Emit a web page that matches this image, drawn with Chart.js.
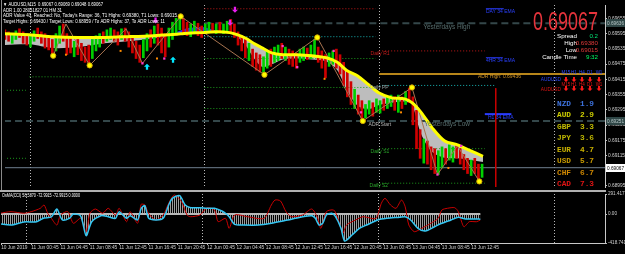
<!DOCTYPE html>
<html>
<head>
<meta charset="utf-8">
<script src="https://cdn.jsdelivr.net/npm/chart.js@4.4.1/dist/chart.umd.min.js"></script>
<style>
  html, body { margin: 0; padding: 0; background: #000; }
  #wrap { position: relative; width: 625px; height: 254px; overflow: hidden; background: #000; }
  #main { position: absolute; left: 0; top: 0; }
  #osc { position: absolute; left: 0; top: 186px; }
</style>
</head>
<body>
<div id="wrap">
  <canvas id="main" width="625" height="192"></canvas>
  <canvas id="osc" width="625" height="68"></canvas>
</div>
<script>
// ---- x axis: M15 bars counted from 11 Jun 00:00 ---- //
const xMin = -13.47;
const xMax = 316.0;
const daySepBars = [0, 96, 192, 288];
const xTickBars = [-13.4, 3, 19, 35, 51, 67, 83, 99, 115, 131, 147, 163, 179, 195, 211, 227, 243];
const xTickText = ['10 Jun 2019', '11 Jun 00:45', '11 Jun 04:45', '11 Jun 08:45', '11 Jun 12:45', '11 Jun 16:45',
  '11 Jun 20:45', '12 Jun 00:45', '12 Jun 04:45', '12 Jun 08:45', '12 Jun 12:45', '12 Jun 16:45',
  '12 Jun 20:45', '13 Jun 00:45', '13 Jun 04:45', '13 Jun 08:45', '13 Jun 12:45'];

// ---- price axis ---- //
const priceMin = 0.68991;
const priceMax = 0.697078;
const priceTicks = [0.68995, 0.69055, 0.69115, 0.69175, 0.69235, 0.69295, 0.69355, 0.69415, 0.69475, 0.69535, 0.69595, 0.69655];

// ---- candles, pairs of M15 bars ---- //
const candleFirstBar = -13.5;
const candleHigh = [
  0.69610, 0.69602, 0.69595, 0.69606, 0.69614, 0.69602, 0.69595, 0.69587, 0.69606, 0.69617, 0.69602, 0.69595,
  0.69583, 0.69572, 0.69595, 0.69625, 0.69633, 0.69595, 0.69580, 0.69565, 0.69572, 0.69557, 0.69542, 0.69550,
  0.69572, 0.69587, 0.69595, 0.69602, 0.69610, 0.69617, 0.69610, 0.69602, 0.69614, 0.69617, 0.69602, 0.69587,
  0.69565, 0.69550, 0.69572, 0.69595, 0.69610, 0.69625, 0.69633, 0.69617, 0.69595, 0.69617, 0.69640, 0.69655,
  0.69663, 0.69655, 0.69640, 0.69633, 0.69644, 0.69636, 0.69625, 0.69633, 0.69640, 0.69636, 0.69633, 0.69640,
  0.69633, 0.69644, 0.69651, 0.69633, 0.69602, 0.69587, 0.69572, 0.69557, 0.69534, 0.69519, 0.69512, 0.69504,
  0.69527, 0.69534, 0.69542, 0.69550, 0.69557, 0.69542, 0.69534, 0.69527, 0.69519, 0.69534, 0.69542, 0.69538,
  0.69550, 0.69572, 0.69542, 0.69527, 0.69512, 0.69519, 0.69527, 0.69534, 0.69512, 0.69482, 0.69451, 0.69406,
  0.69376, 0.69353, 0.69331, 0.69316, 0.69331, 0.69323, 0.69338, 0.69331, 0.69338, 0.69346, 0.69353, 0.69346,
  0.69353, 0.69346, 0.69368, 0.69380, 0.69346, 0.69293, 0.69217, 0.69180, 0.69172, 0.69149, 0.69142, 0.69134,
  0.69149, 0.69142, 0.69157, 0.69149, 0.69157, 0.69142, 0.69119, 0.69104, 0.69097, 0.69104, 0.69081, 0.69081
];
const candleLow = [
  0.69572, 0.69565, 0.69557, 0.69572, 0.69580, 0.69557, 0.69550, 0.69542, 0.69565, 0.69576, 0.69557, 0.69538,
  0.69531, 0.69504, 0.69527, 0.69557, 0.69565, 0.69512, 0.69519, 0.69504, 0.69512, 0.69489, 0.69482, 0.69474,
  0.69497, 0.69527, 0.69542, 0.69557, 0.69565, 0.69572, 0.69565, 0.69550, 0.69572, 0.69565, 0.69542, 0.69519,
  0.69497, 0.69482, 0.69500, 0.69527, 0.69542, 0.69557, 0.69550, 0.69519, 0.69504, 0.69542, 0.69572, 0.69595,
  0.69610, 0.69595, 0.69587, 0.69583, 0.69595, 0.69587, 0.69580, 0.69595, 0.69602, 0.69599, 0.69595, 0.69602,
  0.69595, 0.69606, 0.69602, 0.69580, 0.69550, 0.69527, 0.69500, 0.69489, 0.69466, 0.69451, 0.69444, 0.69433,
  0.69459, 0.69466, 0.69482, 0.69489, 0.69497, 0.69489, 0.69474, 0.69466, 0.69459, 0.69482, 0.69489, 0.69493,
  0.69497, 0.69504, 0.69482, 0.69459, 0.69421, 0.69466, 0.69474, 0.69459, 0.69436, 0.69391, 0.69346, 0.69316,
  0.69300, 0.69278, 0.69251, 0.69263, 0.69278, 0.69270, 0.69285, 0.69282, 0.69293, 0.69300, 0.69308, 0.69293,
  0.69285, 0.69300, 0.69316, 0.69323, 0.69236, 0.69142, 0.69104, 0.69085, 0.69081, 0.69059, 0.69044, 0.69040,
  0.69066, 0.69081, 0.69097, 0.69089, 0.69104, 0.69081, 0.69059, 0.69044, 0.69036, 0.69044, 0.69013, 0.69029
];
const candleUp = [
  0,0,1,1,0,0,0, 1,1,0,0,0,0,0, 1,1,0,0,0,1,0, 0,0,0,1,1,1,0, 1,1,0,0,1,0,0, 0,0,0,1,1,0,1,
  0,0,0,1,1,1,1, 0,0,1,1,0,0,1, 1,0,1,0,1,1,0, 0,0,0,0,1,0,0, 0,1,1,0,1,1,0, 1,0,0,0,1,1,0,
  1,1,0,0,0,1,1, 0,0,0,0,0,1,0, 0,1,1,0,1,1,0, 1,1,0,1,0,1,0, 0,0,0,1,0,0,0, 1,1,0,1,1,0,0,
  0,0,1,0,0,1
];

// ---- moving averages (cloud) ---- //
const maBars = [-14, 0, 13, 27, 41, 54, 68, 76, 81, 84, 87, 95, 103, 110, 114, 119, 123, 128, 133, 139,
  147, 155, 163, 169, 174, 180, 186, 192, 199, 206, 210, 215, 221, 228, 235, 242, 249];
const slowMA = [0.69595, 0.69591, 0.69583, 0.69580, 0.69580, 0.69583, 0.69587, 0.69591, 0.69593, 0.69595,
  0.69597, 0.69599, 0.69602, 0.69599, 0.69591, 0.69576, 0.69557, 0.69538, 0.69519, 0.69512,
  0.69512, 0.69508, 0.69500, 0.69482, 0.69451, 0.69429, 0.69395, 0.69361, 0.69342, 0.69338,
  0.69323, 0.69285, 0.69225, 0.69172, 0.69157, 0.69134, 0.69112];
const fastMA = [0.69550, 0.69553, 0.69538, 0.69542, 0.69557, 0.69565, 0.69576, 0.69587, 0.69602, 0.69610,
  0.69617, 0.69621, 0.69606, 0.69597, 0.69583, 0.69545, 0.69500, 0.69463, 0.69474, 0.69493,
  0.69497, 0.69493, 0.69485, 0.69451, 0.69376, 0.69312, 0.69297, 0.69314, 0.69323, 0.69327,
  0.69316, 0.69200, 0.69130, 0.69106, 0.69104, 0.69097, 0.69089];

// ---- zigzag, swing dots, fractals, arrows ---- //
const zigzagBars = [13, 20, 33, 53, 62, 83, 129, 158, 183, 210, 224, 235, 247];
const zigzagPrices = [0.69508, 0.69633, 0.69470, 0.69614, 0.69478, 0.69663, 0.69433, 0.69580, 0.69251, 0.69383, 0.69040, 0.69153, 0.69013];
const swingBars = [13, 33, 83, 129, 158, 183, 210, 247];
const swingPrices = [0.69508, 0.69470, 0.69663, 0.69433, 0.69580, 0.69251, 0.69383, 0.69013];
const pinkBars = [62, 74, 139, 147, 167, 182, 224, 237];
const pinkPrices = [0.69478, 0.69497, 0.69546, 0.69463, 0.69527, 0.69285, 0.69040, 0.69153];
const orangeBars = [20, 50, 70, 162, 204, 230];
const orangePrices = [0.69512, 0.69527, 0.69497, 0.69417, 0.69285, 0.69066];
const upArrowBars = [64.5, 78.8];
const upArrowPrices = [0.69476, 0.69504];
const downArrowBars = [69.2, 110.1, 112.8];
const downArrowPrices = [0.69635, 0.69626, 0.69677];

// ---- horizontal levels ---- //
const levelPrices = [0.69372, 0.69104, 0.69425, 0.69693, 0.69583, 0.69497, 0.69383, 0.69300,
  0.69527, 0.69391, 0.69142, 0.69006, 0.69636, 0.69251, 0.69436, 0.69067, 0.69693, 0.69500, 0.69278];
const levelFrom = [-14, -14, 0, 96, 96, 96, 96, 96, 192, 192, 192, 192, 96, -14, 192, -14, 250.6, 250.6, 250];
const levelTo = [-2, -2, 94, 190, 190, 190, 190, 190, 250, 256, 250, 250, 330, 330, 330, 330, 260.4, 259.9, 264.6];
const levelKind = ['green', 'green', 'green', 'red', 'cyan', 'green', 'green', 'green',
  'red', 'cyan', 'green', 'green', 'yest', 'yest', 'adr', 'price', 'ema', 'ema', 'ema2'];
const rangeBar = 256;
const rangeTop = 0.69380;

// ---- texts on the chart ---- //
const noteText = ['Daily R1', 'Daily PP', 'Daily S1', 'Daily S2', 'ADR Start', 'Yesterdays High', 'Yesterdays Low',
  'ADR High: 0.69436', 'DAY 34 EMA', '4HR 34 EMA', 'H1 34 EMA'];
const noteBar = [187.3, 186.7, 187.3, 186.7, 186.2, 216.2, 216.8, 246.2, 250.6, 250.6, 251.7];
const notePrice = [0.69516, 0.69382, 0.69131, 0.68998, 0.69238, 0.69621, 0.69240, 0.69427, 0.69680, 0.69487, 0.69263];
const axisBoxPrices = [0.69636, 0.69251, 0.69067];

const infoLines = [
  '\u25BC AUDUSD,M15  0.69067 0.69069 0.69048 0.69067',
  'ADR 1.00 28051827 01 HM 31',
  'ADR Value 43, Reached: No, Today\'s Range: 36, T1 Highs: 0.69380, T1 Lows: 0.69015',
  'Target Highs: 0.69430 / Target Lows: 0.68959 / To ADR Highs: 37, To ADR Lows: 11'
];
const lastPrice = '0.69067';
const statNames = ['Spread', 'High', 'Low', 'Candle Time'];
const statValues = ['0.2', '0.69380', '0.69015', '9:32'];
const timeframes = ['M15', 'H1', 'H4', 'D1', 'W1'];
const currencyNames = ['NZD', 'AUD', 'GBP', 'JPY', 'EUR', 'USD', 'CHF', 'CAD'];
const currencyStrength = [1.9, 2.9, 3.3, 3.6, 4.7, 5.7, 6.7, 7.3];

// ---- OsMA(CCI) window ---- //
const oscMin = -418.7411;
const oscMax = 291.4177;
const oscTicks = [-418.7411, 0, 291.4177];
const oscTickText = ['-418.7411', '0.00', '291.4177'];
const oscTitle = 'OsMA(CCI) 58.5870 -72.9915 -72.9915 0.0000';
const oscBars = [-14, -8, -1, 6, 10, 14, 17, 20, 24, 26, 30, 33, 36, 41, 45, 49, 51, 55, 57, 61,
  63, 65, 67, 71, 75, 78, 80, 84, 87, 90, 95, 99, 103, 107, 109, 111, 114, 119, 127, 134,
  138, 143, 147, 151, 156, 158, 160, 162, 164, 167, 169, 172, 174, 178, 182, 186, 192, 197, 204, 207,
  210, 214, 218, 223, 227, 232, 236, 240, 245, 248];
const oscMain = [-143, -158, -114, -110, -57, -42, 74, -85, -57, 1, -28, -313, -110, -23, -38, -61, 35, -61, -23, -85,
  84, 122, -57, -85, -61, 132, 229, 267, 132, 93, 93, 84, 84, 45, 12, -38, -148, -158, -158, -133,
  -110, -85, -61, -38, -23, -61, -158, -133, -13, 12, -38, -206, -390, -303, -206, -158, -85, -61, -46, -38,
  -85, -206, -245, -183, -133, -85, -46, -71, -71, -73];
const sigBars = [-14, -8, -1, 3, 8, 10, 12, 14, 17, 19, 23, 26, 30, 33, 35, 38, 42, 45, 49, 51,
  55, 57, 61, 63, 65, 67, 71, 75, 78, 81, 85, 88, 90, 95, 99, 103, 105, 109, 111, 114,
  121, 130, 134, 136, 139, 142, 145, 151, 156, 159, 161, 164, 168, 170, 173, 175, 180, 184, 191, 194,
  196, 199, 202, 205, 207, 209, 212, 216, 221, 225, 227, 230, 234, 236, 239, 242, 246, 248];
const oscSignal = [12, 35, 12, 35, 84, 132, 12, -61, -158, -13, 35, -133, -61, -255, 12, 74, 12, 84, -13, 84,
  -110, 35, -133, 142, 132, 12, -85, -13, 157, 277, 180, -13, -38, -13, 93, 59, -110, -61, -206, -13,
  -38, -61, 132, 204, 190, 35, -38, -13, 74, -38, -206, 35, 59, -38, -278, -158, -85, -38, -61, 157,
  229, 132, 84, 204, 107, -158, -255, -206, -133, -61, 59, 84, 93, 35, -183, -110, -110, -85];

// ---- styles ---- //
const SANS = '"Liberation Sans", Arial, sans-serif';
const MONO = '"Liberation Mono", "DejaVu Sans Mono", monospace';
const levelStyle = {
  green: { color: '#1c9a1c', width: 1, dash: [1, 2] },
  red: { color: '#c41818', width: 1, dash: [1, 2] },
  cyan: { color: '#18b4b4', width: 1, dash: [1, 2] },
  yest: { color: '#34474a', width: 2, dash: [7, 4] },
  adr: { color: '#b8861a', width: 2, dash: [] },
  price: { color: '#6f7f8f', width: 1, dash: [] },
  ema: { color: '#2a3cff', width: 1, dash: [] },
  ema2: { color: '#2a3cff', width: 2, dash: [] }
};
const noteColor = ['#c81c1c', '#9aa6a6', '#2aa82a', '#2aa82a', '#b4b4b4', '#566c6c', '#566c6c', '#d0962a', '#2a40ff', '#2a40ff', '#2a40ff'];
const noteSize = [5, 5, 5, 5, 5, 6.5, 6.5, 5, 5, 5, 5];
const boxStyle = [['#2f4646', '#b8c8c8'], ['#2f4646', '#b8c8c8'], ['#ffffff', '#000000']];
const statColors = ['#00e676', '#e03a3a', '#e03a3a', '#00ff66'];
const currencyColors = ['#3d72dd', '#cccc00', '#c2bb00', '#bdb600', '#c8b000', '#c89a00', '#d08800', '#e01414'];

function txt(ctx, s, x, y, color, font, align, maxW) {
  ctx.fillStyle = color;
  ctx.font = font;
  ctx.textAlign = align || 'left';
  ctx.textBaseline = 'middle';
  if (maxW) ctx.fillText(s, x, y, maxW); else ctx.fillText(s, x, y);
}

function drawArrow(ctx, px, py, dir, color, w, h) {
  // py is the tip, dir 1 = body below tip (up arrow), -1 = body above tip (down arrow)
  const hh = h * 0.5, sw = w * 0.38;
  ctx.fillStyle = color;
  ctx.beginPath();
  ctx.moveTo(px, py);
  ctx.lineTo(px + w / 2, py + dir * hh);
  ctx.lineTo(px + sw / 2, py + dir * hh);
  ctx.lineTo(px + sw / 2, py + dir * h);
  ctx.lineTo(px - sw / 2, py + dir * h);
  ctx.lineTo(px - sw / 2, py + dir * hh);
  ctx.lineTo(px - w / 2, py + dir * hh);
  ctx.closePath();
  ctx.fill();
}

function daySeparators(chart) {
  const { ctx, chartArea: a, scales: { x } } = chart;
  ctx.save();
  ctx.strokeStyle = '#b8b8b8';
  ctx.lineWidth = 1;
  ctx.setLineDash([1, 2]);
  daySepBars.forEach(b => {
    const px = Math.round(x.getPixelForValue(b)) + 0.5;
    ctx.beginPath();
    ctx.moveTo(px, a.top);
    ctx.lineTo(px, a.bottom);
    ctx.stroke();
  });
  ctx.restore();
}

// ---- main window ---- //
const mainSets = [];
levelPrices.forEach((p, i) => {
  const st = levelStyle[levelKind[i]];
  mainSets.push({
    data: [{ x: levelFrom[i], y: p }, { x: levelTo[i], y: p }],
    borderColor: st.color, borderWidth: st.width, borderDash: st.dash,
    pointRadius: 0, fill: false, order: 20
  });
});
mainSets.push({
  data: [{ x: rangeBar, y: rangeTop }, { x: rangeBar, y: priceMin }],
  borderColor: '#c80000', borderWidth: 1, pointRadius: 0, fill: false, order: 19
});
mainSets.push({
  data: maBars.map((b, i) => ({ x: b, y: fastMA[i] })),
  borderColor: 'rgba(0,0,0,0)', borderWidth: 1, pointRadius: 0, tension: 0.3,
  fill: { target: '+1', above: '#2a32f0', below: '#bdbdbd' }, order: 15
});
mainSets.push({
  data: maBars.map((b, i) => ({ x: b, y: slowMA[i] })),
  borderColor: '#ffff00', borderWidth: 3, pointRadius: 0, tension: 0.3, fill: false, order: 4
});
mainSets.push({
  type: 'bar',
  data: candleHigh.map((h, i) => ({ x: candleFirstBar + 2 * i, y: [candleLow[i], h] })),
  backgroundColor: candleUp.map(u => u ? '#00d000' : '#d00000'),
  borderWidth: 0, barThickness: 2, order: 8
});
mainSets.push({
  data: zigzagBars.map((b, i) => ({ x: b, y: zigzagPrices[i] })),
  borderColor: '#a87450', borderWidth: 1, pointRadius: 0, tension: 0, fill: false, order: 6
});
mainSets.push({
  data: swingBars.map((b, i) => ({ x: b, y: swingPrices[i] })),
  showLine: false, pointRadius: 2.6, pointBackgroundColor: '#ffff00', pointBorderColor: '#d8a800',
  pointBorderWidth: 1, order: 3
});
mainSets.push({
  data: pinkBars.map((b, i) => ({ x: b, y: pinkPrices[i] })),
  showLine: false, pointStyle: 'rect', pointRadius: 1.6, pointBackgroundColor: '#ff3cc8',
  pointBorderWidth: 0, order: 2
});
mainSets.push({
  data: orangeBars.map((b, i) => ({ x: b, y: orangePrices[i] })),
  showLine: false, pointStyle: 'rect', pointRadius: 1.4, pointBackgroundColor: '#ff8c00',
  pointBorderWidth: 0, order: 2
});

const mainDecor = {
  id: 'mainDecor',
  beforeDraw: daySeparators,
  afterDatasetsDraw(chart) {
    const { ctx, scales: { x, y } } = chart;
    upArrowBars.forEach((b, i) => drawArrow(ctx, x.getPixelForValue(b), y.getPixelForValue(upArrowPrices[i]), 1, '#00e8ff', 6, 6));
    downArrowBars.forEach((b, i) => drawArrow(ctx, x.getPixelForValue(b), y.getPixelForValue(downArrowPrices[i]), -1, '#e81ef0', 6, 6));
  },
  afterDraw(chart) {
    const { ctx, scales: { x, y }, chartArea: a } = chart;
    ctx.save();
    // frame
    ctx.fillStyle = '#b0b0b0';
    ctx.fillRect(0, 190, a.right + 1, 2);
    ctx.fillStyle = '#8a8a8a';
    ctx.fillRect(1, 0, 1, 190);
    // price boxes on the axis
    axisBoxPrices.forEach((p, i) => {
      const py = Math.round(y.getPixelForValue(p));
      ctx.fillStyle = boxStyle[i][0];
      ctx.fillRect(a.right + 1, py - 4, 19, 8);
      txt(ctx, p.toFixed(5), a.right + 2, py + 0.5, boxStyle[i][1], `4.8px ${SANS}`, 'left', 17);
    });
    // notes
    noteText.forEach((s, i) => {
      txt(ctx, s, x.getPixelForValue(noteBar[i]), y.getPixelForValue(notePrice[i]), noteColor[i], `${noteSize[i]}px ${SANS}`);
    });
    // info lines, top left
    const infoW = [100, 59, 174, 162];
    infoLines.forEach((s, i) => txt(ctx, s, 3, 5 + i * 5.5, '#ffffff', `5px ${SANS}`, 'left', infoW[i]));
    // last price, stats
    txt(ctx, lastPrice, 598, 23, '#e6343c', `26px ${SANS}`, 'right', 65);
    statNames.forEach((s, i) => {
      txt(ctx, s, 577, 36 + i * 7, '#ffffff', `6.2px ${SANS}`, 'right');
      txt(ctx, statValues[i], 598, 36 + i * 7, statColors[i], `6.2px ${SANS}`, 'right');
    });
    // timeframe signal table
    const tfX = [566, 574, 582, 590, 599];
    [['#3048ff', 73, 80, 82], ['#e01414', 85, 90, 91]].forEach(row => {
      timeframes.forEach((t, i) => txt(ctx, t, tfX[i], row[1], row[0], `4.5px ${SANS}`, 'center'));
      txt(ctx, 'AUDUSD', 561, row[2], row[0], `4.8px ${SANS}`, 'right');
      tfX.forEach(px => drawArrow(ctx, px, row[3], -1, '#ff1a1a', 5, 5));
    });
    // currency strength
    currencyNames.forEach((c, i) => {
      const py = 104 + i * 11.43;
      txt(ctx, c, 557, py, currencyColors[i], `bold 7.8px ${MONO}`);
      txt(ctx, currencyStrength[i].toFixed(1), 580, py, currencyColors[i], `bold 7.8px ${MONO}`);
    });
    ctx.restore();
  }
};

new Chart(document.getElementById('main'), {
  type: 'line',
  data: { datasets: mainSets },
  options: {
    responsive: false, animation: false, devicePixelRatio: 1, events: [],
    layout: { padding: { left: 1, right: 0, top: 0, bottom: 2 } },
    plugins: { legend: { display: false }, tooltip: { enabled: false }, filler: { drawTime: 'beforeDatasetsDraw' } },
    scales: {
      x: { type: 'linear', min: xMin, max: xMax, offset: false, display: false, grid: { offset: false } },
      y: {
        type: 'linear', position: 'right', min: priceMin, max: priceMax,
        afterBuildTicks: s => { s.ticks = priceTicks.map(v => ({ value: v })); },
        afterFit: s => { s.width = 20; s.paddingTop = 0; s.paddingBottom = 0; },
        ticks: { autoSkip: false, padding: 1, color: '#d0d0d0', font: { family: SANS, size: 4.8 }, callback: v => v.toFixed(5) },
        grid: { drawOnChartArea: false, drawTicks: true, tickLength: 2, color: '#c0c0c0' },
        border: { color: '#c8c8c8', width: 1 }
      }
    }
  },
  plugins: [mainDecor]
});

// ---- OsMA(CCI) window ---- //
const hatch = document.createElement('canvas');
hatch.width = 2; hatch.height = 1;
const hctx = hatch.getContext('2d');
hctx.fillStyle = '#9c9c9c';
hctx.fillRect(0, 0, 1, 1);
const hatchPattern = hctx.createPattern(hatch, 'repeat');

const oscDecor = {
  id: 'oscDecor',
  beforeDraw: daySeparators,
  afterDraw(chart) {
    const { ctx } = chart;
    ctx.save();
    txt(ctx, oscTitle, 2, 10, '#ffffff', `4.8px ${SANS}`, 'left', 78);
    ctx.restore();
  }
};

new Chart(document.getElementById('osc'), {
  type: 'line',
  data: {
    datasets: [
      {
        data: [{ x: -14, y: 0 }, { x: 248, y: 0 }],
        borderColor: '#b8b8b8', borderWidth: 2, pointRadius: 0, fill: false, order: 10
      },
      {
        data: sigBars.map((b, i) => ({ x: b, y: oscSignal[i] })),
        borderColor: '#c80000', borderWidth: 1, pointRadius: 0, tension: 0.25, fill: false, order: 3
      },
      {
        data: oscBars.map((b, i) => ({ x: b, y: oscMain[i] })),
        borderColor: '#34c6f2', borderWidth: 1.5, pointRadius: 0, tension: 0.25,
        fill: 'origin', backgroundColor: hatchPattern, order: 1
      }
    ]
  },
  options: {
    responsive: false, animation: false, devicePixelRatio: 1, events: [],
    layout: { padding: { left: 1, right: 0, top: 8, bottom: 0 } },
    plugins: { legend: { display: false }, tooltip: { enabled: false }, filler: { drawTime: 'beforeDatasetsDraw' } },
    scales: {
      x: {
        type: 'linear', min: xMin, max: xMax, offset: false,
        afterBuildTicks: s => { s.ticks = xTickBars.map(v => ({ value: v })); },
        afterFit: s => { s.height = 11; s.paddingLeft = 0; s.paddingRight = 0; },
        ticks: { autoSkip: false, maxRotation: 0, minRotation: 0, align: 'start', padding: 0, color: '#d0d0d0',
          font: { family: SANS, size: 4.8 }, callback: (v, i) => xTickText[i] },
        grid: { drawOnChartArea: false, drawTicks: true, tickLength: 2, color: '#c0c0c0', offset: false },
        border: { color: '#c8c8c8', width: 1 }
      },
      y: {
        type: 'linear', position: 'right', min: oscMin, max: oscMax,
        afterBuildTicks: s => { s.ticks = oscTicks.map(v => ({ value: v })); },
        afterFit: s => { s.width = 20; s.paddingTop = 0; s.paddingBottom = 0; },
        ticks: { autoSkip: false, padding: 1, color: '#d0d0d0', font: { family: SANS, size: 4.6 },
          callback: v => oscTickText[oscTicks.indexOf(v)] },
        grid: { drawOnChartArea: false, drawTicks: true, tickLength: 2, color: '#c0c0c0' },
        border: { color: '#c8c8c8', width: 1 }
      }
    }
  },
  plugins: [oscDecor]
});
</script>
</body>
</html>
